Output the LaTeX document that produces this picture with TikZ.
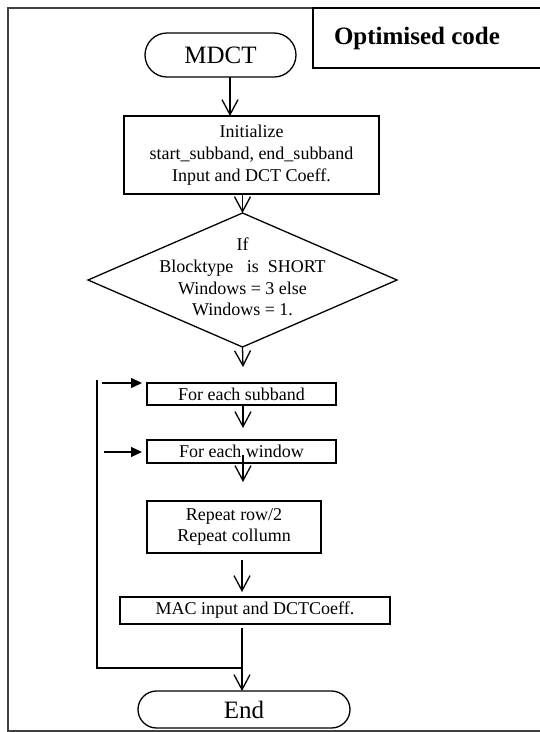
\documentclass[tikz,border=0pt]{standalone}
\usepackage{fontspec}
\setmainfont{Liberation Serif}
\usetikzlibrary{arrows.meta,calc,shapes.geometric}
\begin{document}
\begin{tikzpicture}[x=1pt,y=-1pt,
  line width=1.3pt,
  every node/.style={inner sep=0pt,outer sep=0pt},
  txt/.style={font=\fontsize{18}{21.7}\selectfont,align=center},
  big/.style={font=\fontsize{25}{28}\selectfont},
  boxn/.style={draw,rectangle,txt},
  term/.style={draw,rectangle,big},
  arr/.style={-{Straight Barb[length=15pt,width=16pt]}},
  farr/.style={-{Triangle[length=11pt,width=10pt]}}
]
\useasboundingbox (0,0) rectangle (540,732);
% outer frame
\draw[black!75,line width=1.6pt] (545,8) -- (8,8) -- (8,731) -- (545,731);
% title box
\draw (313,8) rectangle (545,68);
\node[font=\fontsize{25}{28}\selectfont\bfseries] (opt) at (417,38) {Optimised code};
% nodes
\node[term,minimum width=151pt,minimum height=44pt,rounded corners=22pt] (mdct) at (220.5,55) {MDCT};
\node[boxn,minimum width=255pt,minimum height=78pt] (init) at (251.5,155)
  {Initialize\\start\_subband, end\_subband\\Input and DCT Coeff.};
\node[draw,diamond,minimum width=309pt,minimum height=134pt] (dec) at (242.5,280) {};
\node[txt] (dect) at (242.5,277) {If\\Blocktype\ \ \ is\ \ SHORT\\Windows = 3 else\\Windows = 1.};
\coordinate (c1) at (243,367);
\node[boxn,minimum width=189pt,minimum height=22pt] (sub) at (241.5,394) {For each subband};
\coordinate (c2) at (243,428);
\node[boxn,minimum width=189pt,minimum height=23pt] (win) at (241.5,451.5) {For each window};
\coordinate (c3) at (243,482);
\node[boxn,minimum width=174pt,minimum height=52pt] (rep) at (234,527) {Repeat row/2\\Repeat collumn};
\node[boxn,minimum width=270pt,minimum height=27pt] (mac) at (255,610.5) {MAC input and DCTCoeff.};
\node[term,minimum width=212pt,minimum height=37pt,rounded corners=18.5pt] (end) at (244,709.5) {End};
\coordinate (j) at (242,668);
\coordinate (lb) at (97,668);
\coordinate (lt) at (97,380);
\coordinate (a1s) at (102,383);
\coordinate (a2s) at (104,452);
% connectors
\draw[arr] ([xshift=9.5pt]mdct.south) -- ([xshift=9.5pt]mdct.south |- init.north);
\draw[arr] (dec.north |- init.south) -- (dec.north);
\draw[arr] (dec.south) -- (c1);
\draw[arr] (c1 |- sub.south) -- (c2);
\draw[arr] ([yshift=8pt]c2 |- win.south) -- (c3);
\draw[arr] ([yshift=-7pt]j |- rep.south) -- ([yshift=5pt]j |- mac.north);
\draw[arr] ([yshift=-4pt]j |- mac.south) -- (j |- end.north);
\draw (j) -- (lb) -- (lt);
\draw[farr] (a1s) -- ([xshift=-5pt]a1s -| sub.west);
\draw[farr] (a2s) -- ([xshift=-5pt]a2s -| win.west);
\end{tikzpicture}
\end{document}
